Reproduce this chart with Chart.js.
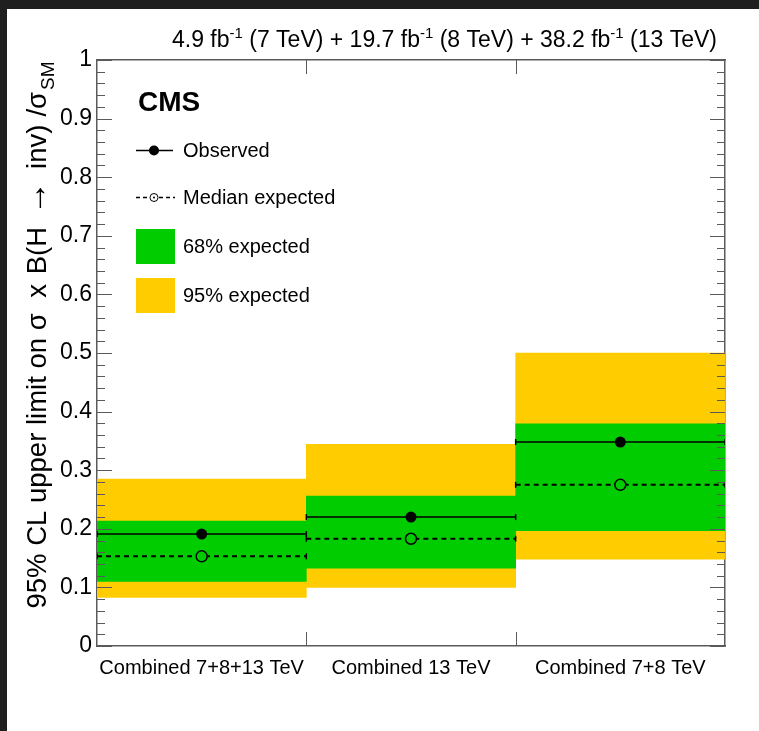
<!DOCTYPE html>
<html>
<head>
<meta charset="utf-8">
<script src="https://cdn.jsdelivr.net/npm/chart.js@4.4.1/dist/chart.umd.min.js"></script>
<style>
  html, body { margin: 0; padding: 0; background: #1f1f1f; }
  #wrap { position: absolute; left: 7px; top: 9px; width: 752px; height: 722px; background: #fff; }
  canvas { display: block; }
</style>
</head>
<body>
<div id="wrap"><canvas id="limits" width="752" height="722"></canvas></div>
<script>
/* 95% CL upper limits on sigma x B(H -> inv) / sigma_SM, per data-taking combination */
const categories  = ["Combined 7+8+13 TeV", "Combined 13 TeV", "Combined 7+8 TeV"];
const observed    = [0.191, 0.220, 0.348];
const expected    = [0.153, 0.183, 0.275];
const band68Low   = [0.110, 0.133, 0.197];
const band68High  = [0.213, 0.256, 0.379];
const band95Low   = [0.083, 0.100, 0.148];
const band95High  = [0.285, 0.344, 0.500];
const yTickLabels = ["0", "0.1", "0.2", "0.3", "0.4", "0.5", "0.6", "0.7", "0.8", "0.9", "1"];
const lumis       = ["4.9", "19.7", "38.2"];
const energies    = ["7", "8", "13"];

const FONT = "'Liberation Sans', Arial, Helvetica, sans-serif";
const GREEN = "#00cc00";
const YELLOW = "#ffcc00";
const AXIS = "#5a5a5a";
const Y_MINOR = 0.02;

// y title pieces: text, font size, extra gap after, baseline shift
const yTitle = [
  { t: "95% CL upper limit on ", size: 27.5, gap: 0 },
  { t: "\u03c3", size: 27.5, gap: 8 },
  { t: " x ", size: 27.5, gap: 2 },
  { t: "B(H", size: 27.5, gap: 12 },
  { t: "\u2192", size: 34, gap: 12 },
  { t: "inv)", size: 27.5, gap: 8 },
  { t: "/\u03c3", size: 27.5, gap: 2 },
  { t: "SM", size: 19, gap: 0, shift: 8 }
];

// horizontal segment across each bin, broken between bins
function binSegments(vals) {
  const pts = [];
  vals.forEach((v, i) => {
    pts.push({ x: i, y: v }, { x: i + 1, y: v }, { x: i + 1, y: null });
  });
  return pts;
}
const centers = vals => vals.map((v, i) => ({ x: i + 0.5, y: v }));
const bands = (lo, hi) => lo.map((v, i) => ({ x: i + 0.5, y: [v, hi[i]] }));

/* ---- inward ROOT-style ticks on all four sides ---- */
const frameTicks = {
  id: "frameTicks",
  afterDraw(chart) {
    const { ctx, chartArea: a, scales } = chart;
    ctx.save();
    ctx.strokeStyle = AXIS;
    ctx.lineWidth = 1;
    ctx.beginPath();
    const n = Math.round(1 / Y_MINOR);
    for (let k = 0; k <= n; k++) {
      const py = Math.round(scales.y.getPixelForValue(k * Y_MINOR)) + 0.5;
      const len = k % 5 === 0 ? 15 : 8;
      ctx.moveTo(a.left, py);  ctx.lineTo(a.left + len, py);
      ctx.moveTo(a.right, py); ctx.lineTo(a.right - len, py);
    }
    for (let i = 1; i < categories.length; i++) {
      const px = Math.round(scales.x.getPixelForValue(i)) + 0.5;
      ctx.moveTo(px, a.bottom); ctx.lineTo(px, a.bottom - 14);
      ctx.moveTo(px, a.top);    ctx.lineTo(px, a.top + 14);
    }
    ctx.stroke();
    ctx.restore();
  }
};

/* ---- titles, CMS label and legend ---- */
const annotations = {
  id: "annotations",
  afterDraw(chart) {
    const ctx = chart.ctx;
    ctx.save();
    ctx.fillStyle = "#000";

    // luminosity line, right aligned
    const big = 23, small = 15;
    const parts = [];
    lumis.forEach((l, i) => {
      parts.push({ t: (i ? " + " : "") + l + " fb", s: false });
      parts.push({ t: "-1", s: true });
      parts.push({ t: " (" + energies[i] + " TeV)", s: false });
    });
    let total = 0;
    parts.forEach(p => {
      ctx.font = (p.s ? small : big) + "px " + FONT;
      p.w = ctx.measureText(p.t).width;
      total += p.w;
    });
    let x = 710 - total;
    ctx.textBaseline = "alphabetic";
    parts.forEach(p => {
      ctx.font = (p.s ? small : big) + "px " + FONT;
      ctx.fillText(p.t, x, p.s ? 29 : 38);
      x += p.w;
    });

    // CMS
    ctx.font = "bold 28px " + FONT;
    ctx.fillText("CMS", 131, 102);

    // y-axis title, rotated, centred on the frame
    ctx.save();
    ctx.translate(39, 326);
    ctx.rotate(-Math.PI / 2);
    let len = 0;
    yTitle.forEach(p => {
      ctx.font = p.size + "px " + FONT;
      p.w = ctx.measureText(p.t).width;
      len += p.w + p.gap;
    });
    let tx = -len / 2;
    yTitle.forEach(p => {
      ctx.font = p.size + "px " + FONT;
      ctx.fillText(p.t, tx, p.shift || 0);
      tx += p.w + p.gap;
    });
    ctx.restore();

    // legend
    const ds = chart.data.datasets;
    ctx.font = "20px " + FONT;
    ctx.textBaseline = "middle";
    ctx.strokeStyle = "#000";

    ctx.lineWidth = 1.5;
    ctx.beginPath(); ctx.moveTo(129, 141.5); ctx.lineTo(166, 141.5); ctx.stroke();
    ctx.beginPath(); ctx.arc(147, 141.5, 5, 0, Math.PI * 2); ctx.fill();
    ctx.fillText(ds[1].label, 176, 142);

    ctx.setLineDash([4, 3]);
    ctx.lineWidth = 1.5;
    ctx.beginPath(); ctx.moveTo(129, 188.5); ctx.lineTo(142, 188.5);
    ctx.moveTo(152, 188.5); ctx.lineTo(168, 188.5); ctx.stroke();
    ctx.setLineDash([]);
    ctx.lineWidth = 1;
    ctx.beginPath(); ctx.arc(147, 188.5, 4, 0, Math.PI * 2); ctx.stroke();
    ctx.beginPath(); ctx.arc(147, 188.5, 1, 0, Math.PI * 2); ctx.fill();
    ctx.fillText(ds[3].label, 176, 189);

    ctx.fillStyle = GREEN;
    ctx.fillRect(129, 220, 39, 35);
    ctx.fillStyle = YELLOW;
    ctx.fillRect(129, 269, 39, 35);
    ctx.fillStyle = "#000";
    ctx.fillText(ds[4].label, 176, 238.5);
    ctx.fillText(ds[5].label, 176, 287);

    ctx.restore();
  }
};

const frameAxis = (pos, size, extra) => Object.assign({
  type: "linear",
  position: pos,
  grid: { display: false, drawTicks: false },
  border: { display: true, color: AXIS, width: 1.5 },
  afterFit(s) {
    if (pos === "left" || pos === "right") s.width = size; else s.height = size;
  }
}, extra);

new Chart(document.getElementById("limits"), {
  type: "bar",
  data: {
    datasets: [
      {
        type: "line", label: "Observed", data: binSegments(observed),
        borderColor: "#000", borderWidth: 1.5, spanGaps: false,
        pointStyle: "line", rotation: 90, pointRadius: 3,
        pointBorderColor: "#000", pointBorderWidth: 1.5, order: 1
      },
      {
        type: "line", label: "Observed", data: centers(observed), showLine: false,
        pointStyle: "circle", pointRadius: 5.5, pointBackgroundColor: "#000",
        pointBorderColor: "#000", pointBorderWidth: 0, order: 0
      },
      {
        type: "line", label: "Median expected", data: binSegments(expected),
        borderColor: "#000", borderWidth: 2, borderDash: [5, 4], spanGaps: false,
        pointStyle: "line", rotation: 90, pointRadius: 3,
        pointBorderColor: "#000", pointBorderWidth: 1.5, order: 1
      },
      {
        type: "line", label: "Median expected", data: centers(expected), showLine: false,
        pointStyle: "circle", pointRadius: 5.5, pointBackgroundColor: GREEN,
        pointBorderColor: "#000", pointBorderWidth: 1.5, order: 0
      },
      {
        label: "68% expected", data: bands(band68Low, band68High),
        backgroundColor: GREEN, borderWidth: 0, grouped: false,
        barPercentage: 1, categoryPercentage: 1, order: 2
      },
      {
        label: "95% expected", data: bands(band95Low, band95High),
        backgroundColor: YELLOW, borderWidth: 0, grouped: false,
        barPercentage: 1, categoryPercentage: 1, order: 3
      }
    ]
  },
  options: {
    responsive: false,
    animation: false,
    devicePixelRatio: 1,
    events: [],
    layout: { padding: 0 },
    plugins: { legend: { display: false }, tooltip: { enabled: false } },
    scales: {
      x: frameAxis("bottom", 85, {
        min: 0, max: 3, offset: false,
        afterBuildTicks(s) { s.ticks = categories.map((c, i) => ({ value: i + 0.5 })); },
        ticks: {
          autoSkip: false, maxRotation: 0, padding: 10, color: "#000",
          font: { family: FONT, size: 20 },
          callback: (v, i) => categories[i]
        }
      }),
      x2: frameAxis("top", 51, { min: 0, max: 3, offset: false, ticks: { display: false } }),
      y: frameAxis("left", 90, {
        min: 0, max: 1,
        ticks: {
          stepSize: 0.1, padding: 5, color: "#000",
          font: { family: FONT, size: 23 },
          callback: (v, i) => yTickLabels[i]
        }
      }),
      y2: frameAxis("right", 34, { min: 0, max: 1, ticks: { display: false } })
    }
  },
  plugins: [frameTicks, annotations]
});
</script>
</body>
</html>
